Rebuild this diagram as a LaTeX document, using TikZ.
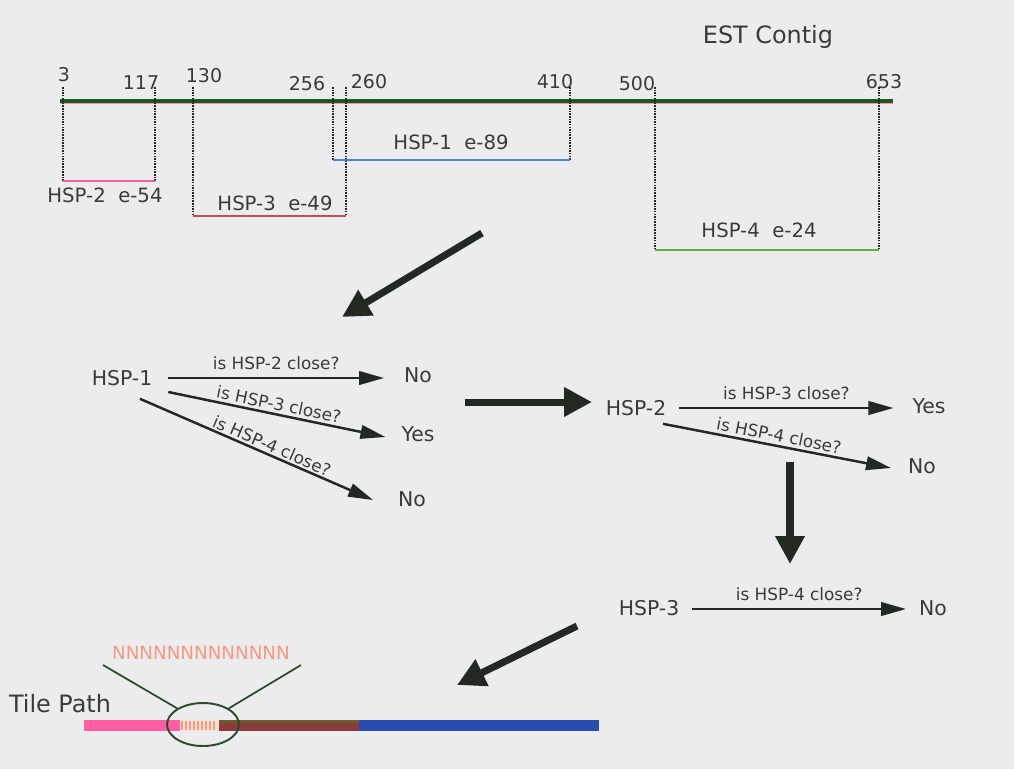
\documentclass[tikz,border=0pt]{standalone}
\usepackage{fontspec}
\setmainfont{DejaVu Sans}
\usetikzlibrary{positioning,arrows.meta,calc,shapes.geometric}
\definecolor{cBack}{HTML}{ECECEE}
\definecolor{cText}{HTML}{3A3A3A}
\definecolor{cAxis}{HTML}{1E5A1E}
\definecolor{cPink}{HTML}{F0609A}
\definecolor{cRed}{HTML}{B85050}
\definecolor{cBlue}{HTML}{4A82C4}
\definecolor{cGreen}{HTML}{62B040}
\definecolor{cArrow}{HTML}{222822}
\definecolor{cSalmon}{HTML}{F29A82}
\definecolor{cPeach}{HTML}{FBE3D6}
\definecolor{cHot}{HTML}{FF5FA2}
\definecolor{cBrown}{HTML}{8A3C3C}
\definecolor{cOlive}{HTML}{6E5A2E}
\definecolor{cNavy}{HTML}{2A4CAE}
\definecolor{cRing}{HTML}{2C4A2C}
\tikzset{
	lbl/.style={text=cText, inner sep=1pt, font=\fontsize{11.2}{13}\selectfont},
	big/.style={text=cText, inner sep=1pt, font=\fontsize{13.6}{15}\selectfont},
	num/.style={text=cText, inner sep=1pt, font=\fontsize{10.8}{12}\selectfont},
	hsp/.style={text=cText, inner sep=1pt, font=\fontsize{11.6}{13}\selectfont},
	ask/.style={text=cText, inner sep=1pt, font=\fontsize{9.6}{11}\selectfont},
	tick/.style={line width=1.5pt, dash pattern=on 0.9pt off 0.6pt, black!85},
	qarr/.style={-{Triangle[length=0.5cm,width=0.27cm]}, line width=1.4pt, cArrow},
	bigarr/.style={-{Triangle[length=0.56cm,width=0.56cm]}, line width=4pt, cArrow},
}
\begin{document}
\begin{tikzpicture}[x=0.02cm, y=-0.02cm]
	\fill[cBack] (0,0) rectangle (1014,769);
	% contig and hits
	\node[big] (title) at (768,37) {EST Contig};
	\draw[cAxis, line width=2.3pt] (60,101) -- (893,101);
	\draw[cPink!70, line width=0.5pt] (60,103.5) -- (893,103.5);
	\foreach \x/\y/\t in {64/75/3, 141/83/117, 204/76/130, 307/84/256, 369/82/260, 555/82/410, 637/84/500, 884/82/653}
		\node[num] (n\t) at (\x,\y) {\t};
	\foreach \a/\b/\d/\c in {63/155/181/cPink, 193/346/216/cRed, 333/570/160/cBlue, 655/879/250/cGreen} {
		\draw[tick] (\a,87) -- (\a,\d);
		\draw[tick] (\b,87) -- (\b,\d);
		\draw[\c, line width=1.5pt] (\a,\d) -- (\b,\d);
	}
	\node[lbl] (hsp2) at (105,195) {HSP-2\ \ e-54};
	\node[lbl] (hsp3) at (275,203) {HSP-3\ \ e-49};
	\node[lbl] (hsp1) at (451,142) {HSP-1\ \ e-89};
	\node[lbl] (hsp4) at (759,230) {HSP-4\ \ e-24};
	% first round
	\node[hsp] (h1) at (122,378) {HSP-1};
	\node[hsp] (h1no) at (418,375) {No};
	\node[hsp] (h1yes) at (418,434) {Yes};
	\node[hsp] (h1no2) at (412,499) {No};
	\draw[qarr] ($(h1.east)+(14,0)$) -- node[ask, above=3pt] {is HSP-2 close?} ($(h1no.west)+(-18,3)$);
	\draw[qarr] ($(h1.east)+(14,14)$) -- node[ask, above=0.5pt, sloped] {is HSP-3 close?} ($(h1yes.west)+(-14,3)$);
	\draw[qarr] ($(h1.south)+(18,11)$) -- node[ask, above=0pt, sloped, pos=0.55] {is HSP-4 close?} ($(h1no2.west)+(-23,1)$);
	% second round
	\node[hsp] (h2) at (636,408) {HSP-2};
	\node[hsp] (h2yes) at (929,406) {Yes};
	\node[hsp] (h2no) at (922,466) {No};
	\draw[qarr] ($(h2.east)+(11,0)$) -- node[ask, above=3pt] {is HSP-3 close?} ($(h2yes.west)+(-17,2)$);
	\draw[qarr] ($(h2.south)+(27,6)$) -- node[ask, above=0.5pt, sloped] {is HSP-4 close?} ($(h2no.west)+(-15,2)$);
	% third round
	\node[hsp] (h3) at (649,608) {HSP-3};
	\node[hsp] (h3no) at (933,608) {No};
	\draw[qarr] ($(h3.east)+(11,1)$) -- node[ask, above=3pt] {is HSP-4 close?} ($(h3no.west)+(-11,1)$);
	% flow between steps
	\coordinate (a1s) at (482,233); \coordinate (a1e) at (342,317);
	\coordinate (a2s) at (465,402); \coordinate (a2e) at (592,402);
	\coordinate (a3s) at (790,462); \coordinate (a3e) at (790,564);
	\coordinate (a4s) at (577,626); \coordinate (a4e) at (457,685);
	\foreach \s/\e in {a1s/a1e,a2s/a2e,a3s/a3e,a4s/a4e} \draw[bigarr] (\s) -- (\e);
	% tile path
	\node[big] (tile) at (60,704) {Tile Path};
	\fill[cHot] (84,720) rectangle (180,731);
	\fill[cPeach] (180,720) rectangle (219,731);
	\foreach \x in {182,186,...,216} \draw[cSalmon, line width=0.6pt] (\x,721) -- (\x,730);
	\fill[cBrown] (219,720) rectangle (359,731);
	\fill[cOlive] (219,720) rectangle (359,723);
	\fill[cNavy] (359,720) rectangle (599,731);
	\node[draw=cRing, line width=1.1pt, ellipse, minimum width=1.44cm, minimum height=0.86cm, inner sep=0] (ring) at (203,724.5) {};
	\node[text=cSalmon, inner sep=1pt, font=\fontsize{10.4}{12}\selectfont] (gap) at (201,653) {NNNNNNNNNNNNN};
	\coordinate (ringl) at (103,665);
	\coordinate (ringr) at (301,665);
	\draw[cRing, line width=1pt] (ringl) -- (ring.148);
	\draw[cRing, line width=1pt] (ringr) -- (ring.32);
\end{tikzpicture}
\end{document}
